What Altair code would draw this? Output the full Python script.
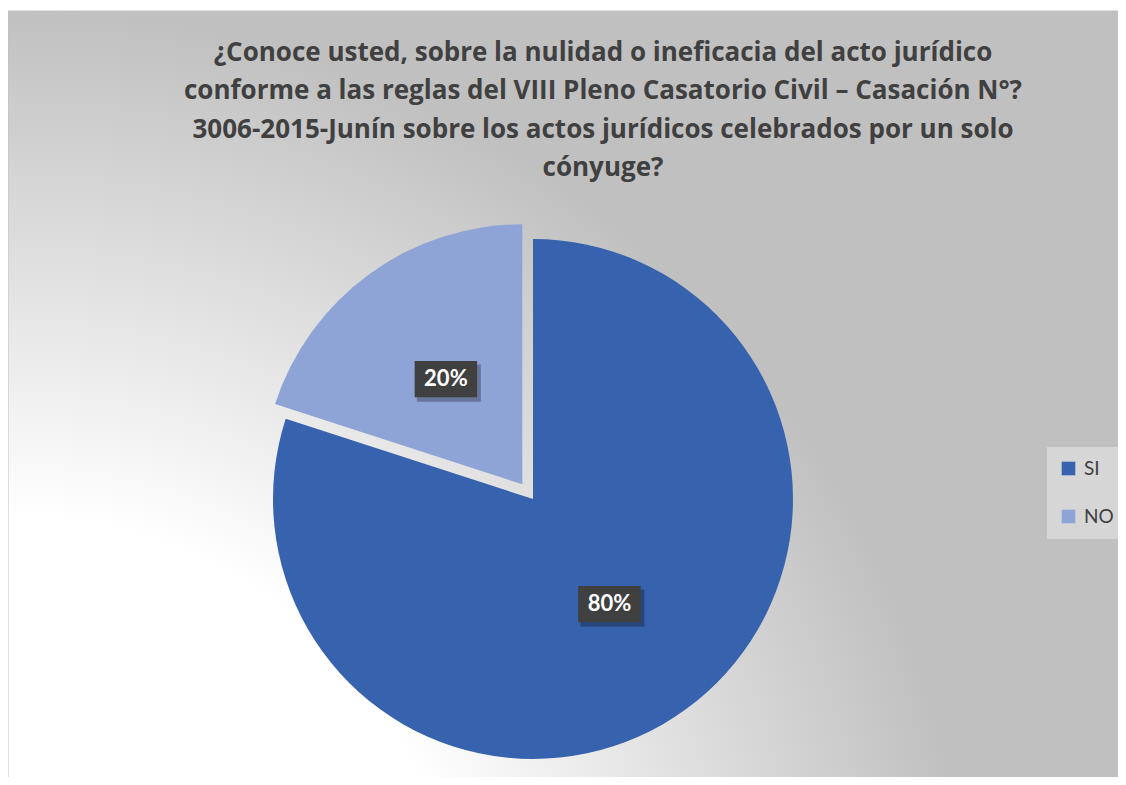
import altair as alt
import pandas as pd

categories = ["SI", "NO"]
values = [80, 20]
colors = ["#3762AE", "#8FA4D6"]
title_lines = [
    "¿Conoce usted, sobre la nulidad o ineficacia del acto jurídico",
    "conforme a las reglas del VIII Pleno Casatorio Civil – Casación N°?",
    "3006-2015-Junín sobre los actos jurídicos celebrados por un solo",
    "cónyuge?",
]

df = pd.DataFrame({"cat": categories, "val": values, "idx": list(range(len(categories)))})

W, H = 1110, 769
CX, CY, R = 525, 491, 260
BOX = "M-1,-0.58H1V0.58H-1Z"
FONT = "Lato"

xs = alt.Scale(domain=[-1, 1], range=[CX - R, CX + R])
ys = alt.Scale(domain=[-1, 1], range=[CY + R, CY - R])

base = (
    alt.Chart(df)
    .transform_window(cum="sum(val)", sort=[alt.SortField("idx")], frame=[None, 0])
    .transform_joinaggregate(total="sum(val)")
    .transform_calculate(a1="2*PI*datum.cum/datum.total")
    .transform_calculate(a0="2*PI*(datum.cum-datum.val)/datum.total")
    .transform_calculate(mid="(datum.a0+datum.a1)/2")
    .transform_calculate(off="datum.cat === 'NO' ? 0.07 : 0")
    .transform_calculate(cx="datum.off*sin(datum.mid)")
    .transform_calculate(cy="datum.off*cos(datum.mid)")
    .transform_calculate(lx="datum.cx + 0.5*sin(datum.mid)")
    .transform_calculate(ly="datum.cy + 0.5*cos(datum.mid)")
    .transform_calculate(label="format(datum.val/datum.total, '.0%')")
)

X = alt.X("cx:Q", scale=xs, axis=None)
Y = alt.Y("cy:Q", scale=ys, axis=None)
LX = alt.X("lx:Q", scale=xs, axis=None)
LY = alt.Y("ly:Q", scale=ys, axis=None)

arcs = base.mark_arc(radius=R).encode(
    theta=alt.Theta("a0:Q", scale=None),
    theta2="a1:Q",
    x=X,
    y=Y,
    color=alt.Color(
        "cat:N",
        scale=alt.Scale(domain=categories, range=colors),
        sort=categories,
        legend=alt.Legend(
            title=None,
            orient="none",
            legendX=1039,
            legendY=439,
            symbolType="square",
            symbolSize=185,
            symbolStrokeWidth=0,
            labelFont=FONT,
            labelFontSize=19,
            labelColor="#404040",
            labelOffset=6,
            fillColor="#D6D6D6",
            padding=12,
            rowPadding=28,
        ),
    ),
)

shadow = base.mark_point(
    shape=BOX, size=4100, filled=True, color="#000000", opacity=0.28, strokeWidth=0,
    xOffset=3, yOffset=4,
).encode(x=LX, y=LY)

boxes = base.mark_point(
    shape=BOX, size=3900, filled=True, color="#404040", opacity=1, strokeWidth=0
).encode(x=LX, y=LY)

labels = base.mark_text(
    font=FONT, fontWeight="bold", fontSize=22, color="white", align="center", baseline="middle"
).encode(x=LX, y=LY, text="label:N")

one = alt.Data(values=[{"a": 1}])

bg = alt.Chart(one).mark_rect(
    fill=alt.Gradient(
        gradient="radial",
        x1=0, y1=1, r1=0,
        x2=0, y2=1, r2=1,
        stops=[
            alt.GradientStop(offset=0, color="#FFFFFF"),
            alt.GradientStop(offset=0.4, color="#FFFFFF"),
            alt.GradientStop(offset=0.85, color="#C0C0C0"),
            alt.GradientStop(offset=1, color="#C0C0C0"),
        ],
    ),
    stroke="#BFBFBF",
    strokeWidth=1,
).encode(x=alt.value(0), x2=alt.value(W + 20), y=alt.value(3), y2=alt.value(H + 20))

title = alt.Chart(one).mark_text(
    text=title_lines,
    font="Open Sans",
    fontSize=26,
    fontWeight="bold",
    color="#404040",
    align="center",
    baseline="alphabetic",
    lineHeight=38.5,
).encode(x=alt.value(595), y=alt.value(52.5))

chart = (
    alt.layer(bg, title, arcs, shadow, boxes, labels)
    .properties(width=W, height=H, padding=0, autosize="none")
    .configure_view(stroke=None)
)

chart.save("out.html", embed_options={"renderer": "svg", "actions": False})
